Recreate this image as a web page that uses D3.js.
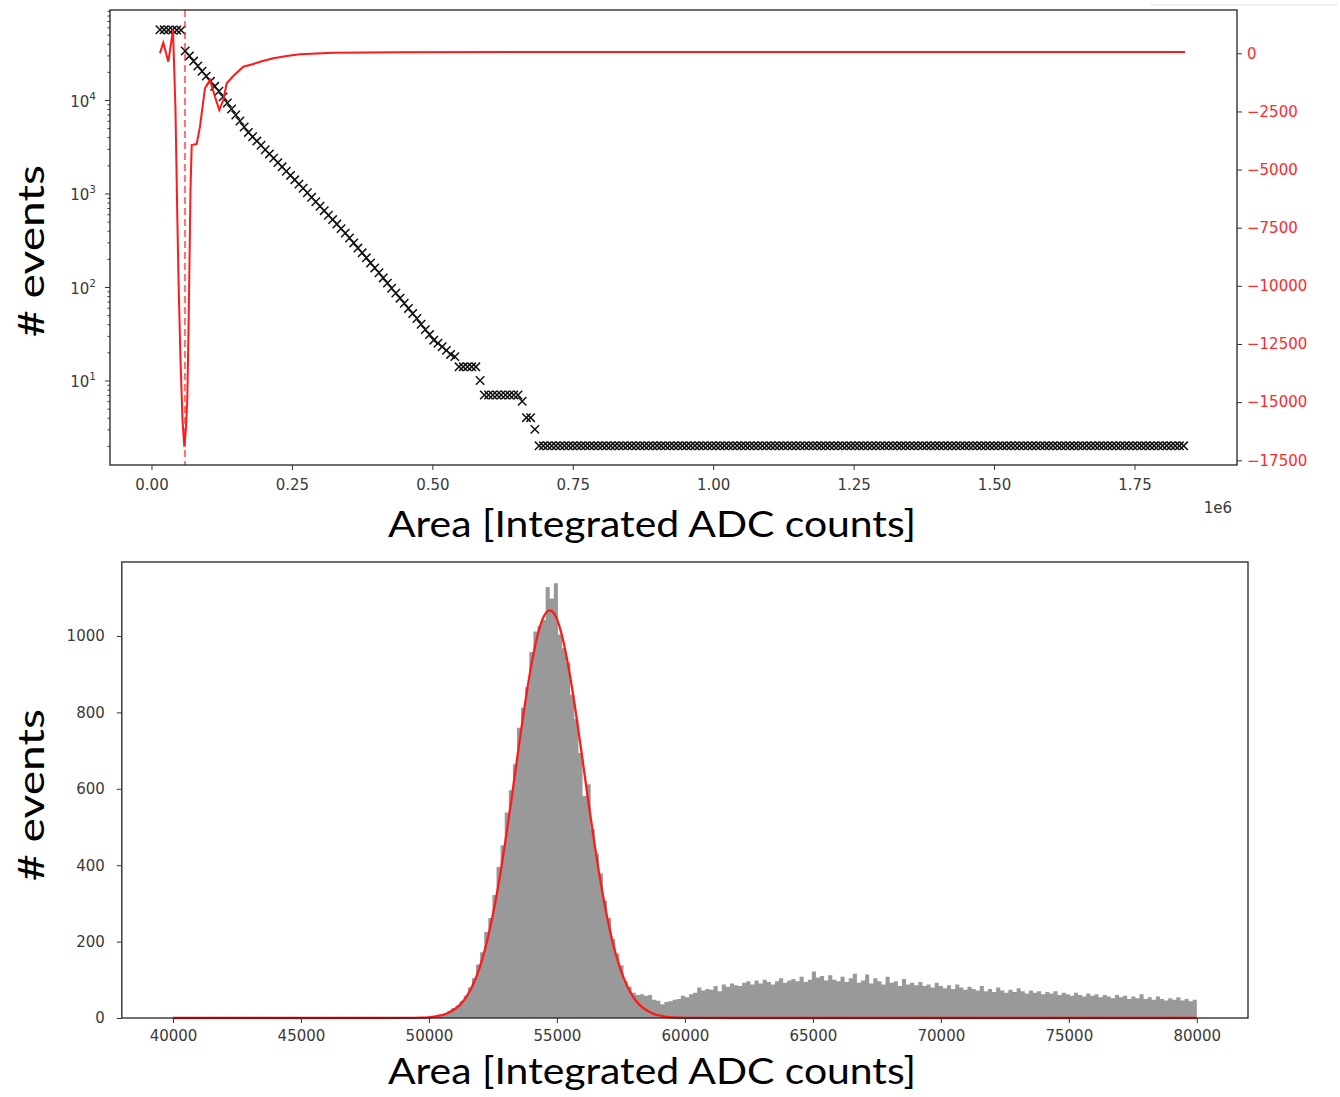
<!DOCTYPE html>
<html><head><meta charset="utf-8">
<script src="https://cdn.jsdelivr.net/npm/d3@7"></script>
<style>body{margin:0;background:#fff}svg{display:block}</style>
</head><body>
<svg id="c" width="1340" height="1097"></svg>
<script>
// ---------------- DATA ----------------
// Top panel: event counts per area bin (black x markers, log scale)
const topBinStart = 15000;
const topBinStep = 7500;
const topCountsHead = [56400, 56300, 56200, 56100, 56000, 55900,
  33400, 29600, 26100, 23100, 20300, 18000, 15850, 14000, 12400, 10800,
  9290, 8010, 6920, 5960, 5140, 4500, 4050, 3640, 3280, 2940,
  2650, 2390, 2140, 1930, 1730, 1560, 1400, 1260, 1137, 1018,
  910, 817, 731, 655, 586, 526, 471, 421, 377, 334,
  296, 261, 232, 205, 181, 160, 142, 125, 110, 97,
  86, 76, 67, 59, 52, 46, 40, 35, 31, 27, 25, 23, 21, 19, 18,
  14, 14, 14, 14, 14, 10, 7, 7, 7, 7, 7, 7, 7, 7, 7, 6, 4, 4, 3];
const topCountsTail = [
  2,2,2,2,2,2,2,2,2,2,2,2,2,2,2,2,2,2,2,2,2,2,2,2,2,2,2,2,2,2,2,
  2,2,2,2,2,2,2,2,2,2,2,2,2,2,2,2,2,2,2,2,2,2,2,2,2,2,2,2,2,2,2,
  2,2,2,2,2,2,2,2,2,2,2,2,2,2,2,2,2,2,2,2,2,2,2,2,2,2,2,2,2,2,2,
  2,2,2,2,2,2,2,2,2,2,2,2,2,2,2,2,2,2,2,2,2,2,2,2,2,2,2,2,2,2,2,
  2,2,2,2,2,2,2,2,2,2,2,2,2,2,2,2,2,2,2,2,2,2,2,2,2,2,2,2,2,2];
// Top panel: red curve on the right axis
const curveX = [15100, 21000, 29900, 38300, 42700, 45400, 48100, 51600, 55200, 58400,
  61100, 63700, 65900, 67700, 69400, 71600, 80500, 86300, 95200, 104100,
  113000, 120700, 127800, 133900, 145600, 163400, 181200, 193200, 216900, 240700,
  264400, 323500, 442400, 798500, 1510600, 1840000];
const curveY = [0, 456, -361, 1002, -2438, -6308, -9748, -13188, -15769, -16916,
  -16200, -14910, -11900, -8890, -5880, -3943, -3900, -3156, -1505, -1148,
  -1866, -2438, -2008, -1290, -976, -576, -460, -361, -215, -116,
  -43, 22, 47, 56, 56, 56];
const cutValue = 59600;
const topXTicks = [0, 250000, 500000, 750000, 1000000, 1250000, 1500000, 1750000];
const topXTickLabels = ["0.00", "0.25", "0.50", "0.75", "1.00", "1.25", "1.50", "1.75"];
const logTicks = [10, 100, 1000, 10000];
const logTickExps = ["1", "2", "3", "4"];
const rightTicks = [0, -2500, -5000, -7500, -10000, -12500, -15000, -17500];

// Bottom panel: histogram
const histStart = 49600;
const histBinWidth = 160;
const histCounts = [
  1, 2, 3, 5, 6, 9, 12, 18, 26, 33,
  44, 58, 80, 104, 140, 172, 225, 262, 322, 395,
  452, 538, 596, 664, 760, 812, 866, 958, 1012, 1026,
  1042, 1128, 1098, 1138, 1004, 968, 930, 846, 782, 694,
  582, 612, 494, 430, 378, 306, 262, 206, 168, 138,
  96, 82, 66, 60, 62, 58, 60, 48, 45, 36,
  42, 44, 48, 50, 58, 54, 62, 66, 80, 72,
  76, 74, 84, 70, 88, 82, 90, 86, 84, 92,
  96, 88, 98, 90, 100, 94, 88, 96, 104, 92,
  98, 102, 96, 108, 94, 100, 122, 106, 110, 98,
  112, 100, 96, 108, 94, 104, 116, 92, 98, 114,
  90, 104, 96, 88, 108, 92, 96, 84, 102, 88,
  92, 86, 94, 84, 88, 80, 92, 84, 78, 86,
  76, 88, 80, 74, 82, 76, 72, 84, 70, 76,
  68, 80, 72, 66, 74, 68, 78, 70, 64, 72,
  66, 70, 62, 68, 64, 70, 60, 66, 62, 58,
  66, 60, 56, 64, 58, 62, 54, 60, 56, 52,
  60, 54, 58, 50, 56, 52, 62, 50, 54, 48,
  56, 50, 46, 52, 48, 54, 46, 50, 44, 48];
// Gaussian fit curve (red)
const fitX = [40000, 46000, 48000, 49000, 49720, 50220, 50720, 51220, 51470, 51720,
  51970, 52220, 52470, 52720, 52970, 53220, 53470, 53720, 53970, 54220,
  54470, 54720, 54970, 55220, 55470, 55720, 55970, 56220, 56470, 56720,
  56970, 57220, 57470, 57720, 57970, 58220, 58720, 59220, 59720, 60500,
  62000, 80000];
const fitY = [0, 0, 0.05, 0.1, 1.0, 3.8, 12.4, 35, 56, 87,
  130, 187, 261, 350, 455, 570, 691, 808, 912, 995,
  1049, 1067, 1049, 995, 912, 808, 691, 570, 455, 350,
  261, 187, 130, 87, 56, 35, 12.4, 3.8, 1.0, 0.1,
  0, 0];
const botXTicks = [40000, 45000, 50000, 55000, 60000, 65000, 70000, 75000, 80000];
const botYTicks = [0, 200, 400, 600, 800, 1000];

// ---------------- DRAW ----------------
const svg = d3.select("#c");
const tickFont = "DejaVu Sans";
const labelFont = "Lato";
const tickColor = "#3a3a3a";
svg.append("line").attr("x1", 1150).attr("x2", 1338).attr("y1", 5).attr("y2", 5)
  .attr("stroke", "#e6e6e6").attr("stroke-width", 1);

// ===== TOP PANEL =====
const T = {l: 110, r: 1237, t: 10, b: 465};
const tX = d3.scaleLinear().domain([-73880, 1932520]).range([T.l, T.r]);
const tY = d3.scaleLog().domain([1.248, 91770]).range([T.b, T.t]);
const tY2 = d3.scaleLinear().domain([-17703, 1862]).range([T.b, T.t]);

svg.append("clipPath").attr("id", "clipTop").append("rect")
  .attr("x", T.l).attr("y", T.t).attr("width", T.r - T.l).attr("height", T.b - T.t);

const topCounts = topCountsHead.concat(topCountsTail);
const topPts = topCounts.map((c, i) => ({x: topBinStart + i * topBinStep, y: c}));

const gTop = svg.append("g").attr("clip-path", "url(#clipTop)");
gTop.selectAll("path.mk").data(topPts).join("path").attr("class", "mk")
  .attr("transform", d => `translate(${tX(d.x)},${tY(d.y)})`)
  .attr("d", "M-4.2,-4.2L4.2,4.2M-4.2,4.2L4.2,-4.2")
  .attr("stroke", "#111").attr("stroke-width", 1.5).attr("fill", "none");

gTop.append("line").attr("x1", tX(cutValue)).attr("x2", tX(cutValue))
  .attr("y1", T.t).attr("y2", T.b)
  .attr("stroke", "rgba(255,40,40,0.65)").attr("stroke-width", 2).attr("stroke-dasharray", "7,4");

const curvePts = curveX.map((x, i) => [x, curveY[i]]);
gTop.append("path").datum(curvePts)
  .attr("d", d3.line().x(d => tX(d[0])).y(d => tY2(d[1])))
  .attr("fill", "none").attr("stroke", "#ff1a1a").attr("stroke-width", 2);

// frame
svg.append("rect").attr("x", T.l).attr("y", T.t).attr("width", T.r - T.l).attr("height", T.b - T.t)
  .attr("fill", "none").attr("stroke", "#222").attr("stroke-width", 1.3);

function styleAxis(g, color) {
  g.select(".domain").remove();
  g.selectAll(".tick line").attr("stroke", "#333").attr("stroke-width", 1);
  g.selectAll(".tick text").attr("font-family", tickFont).attr("font-size", 15).attr("fill", color || tickColor);
}
// bottom x axis
const axTX = svg.append("g").attr("transform", `translate(0,${T.b})`)
  .call(d3.axisBottom(tX).tickValues(topXTicks).tickSize(5).tickPadding(9)
    .tickFormat((d, i) => topXTickLabels[i]));
styleAxis(axTX);
svg.append("text").attr("x", 1218).attr("y", 513).attr("text-anchor", "middle")
  .attr("font-family", tickFont).attr("font-size", 15).attr("fill", tickColor).text("1e6");

// left log axis major
const axTY = svg.append("g").attr("transform", `translate(${T.l},0)`)
  .call(d3.axisLeft(tY).tickValues(logTicks).tickSize(5).tickFormat(""));
styleAxis(axTY);
axTY.selectAll(".tick").each(function(d, i) {
  const t = d3.select(this).append("text").attr("x", -14).attr("y", 6)
    .attr("text-anchor", "end").attr("font-family", tickFont).attr("font-size", 15).attr("fill", tickColor);
  t.append("tspan").text("10");
  t.append("tspan").attr("dy", -7).attr("font-size", 10.5).text(logTickExps[i]);
});
// minor log ticks
const minorTicks = [];
[1, 10, 100, 1000, 10000].forEach(b => { for (let m = 2; m <= 9; m++) { const v = b * m; if (v >= 1.248 && v <= 91770) minorTicks.push(v); } });
const axTYm = svg.append("g").attr("transform", `translate(${T.l},0)`)
  .call(d3.axisLeft(tY).tickValues(minorTicks).tickSize(2.5).tickFormat(""));
styleAxis(axTYm);

// right axis
const axTY2 = svg.append("g").attr("transform", `translate(${T.r},0)`)
  .call(d3.axisRight(tY2).tickValues(rightTicks).tickSize(5).tickPadding(5)
    .tickFormat(d => d === 0 ? "0" : "\u2212" + Math.abs(d)));
styleAxis(axTY2, "#ff2a2a");

svg.append("text").attr("x", 652).attr("y", 537).attr("text-anchor", "middle")
  .attr("font-family", labelFont).attr("font-size", 36).attr("fill", "#000")
  .attr("textLength", 528).attr("lengthAdjust", "spacingAndGlyphs").text("Area [Integrated ADC counts]");
svg.append("text").attr("transform", "translate(44,251) rotate(-90)").attr("text-anchor", "middle")
  .attr("font-family", labelFont).attr("font-size", 36).attr("fill", "#000")
  .attr("textLength", 172).attr("lengthAdjust", "spacingAndGlyphs").text("# events");

// ===== BOTTOM PANEL =====
const B = {l: 121.8, r: 1248, t: 562, b: 1018};
const bX = d3.scaleLinear().domain([38000, 82000]).range([B.l, B.r]);
const bY = d3.scaleLinear().domain([0, 1193.7]).range([B.b, B.t]);

// histogram drawn as one stepped area (no seams between adjacent bars)
const histSteps = histCounts.map((c, i) => ({x: histStart + i * histBinWidth, c}));
histSteps.push({x: histStart + histCounts.length * histBinWidth, c: histCounts[histCounts.length - 1]});
svg.append("path").datum(histSteps)
  .attr("d", d3.area().curve(d3.curveStepAfter).x(d => bX(d.x)).y0(bY(0)).y1(d => bY(d.c)))
  .attr("fill", "#999999");

const fitPts = fitX.map((x, i) => [x, fitY[i]]);
svg.append("path").datum(fitPts)
  .attr("d", d3.line().x(d => bX(d[0])).y(d => bY(d[1])).curve(d3.curveMonotoneX))
  .attr("fill", "none").attr("stroke", "#ff1a1a").attr("stroke-width", 2.3);

svg.append("rect").attr("x", B.l).attr("y", B.t).attr("width", B.r - B.l).attr("height", B.b - B.t)
  .attr("fill", "none").attr("stroke", "#222").attr("stroke-width", 1.3);

const axBX = svg.append("g").attr("transform", `translate(0,${B.b})`)
  .call(d3.axisBottom(bX).tickValues(botXTicks).tickSize(5).tickPadding(7).tickFormat(d3.format("d")));
styleAxis(axBX);
const axBY = svg.append("g").attr("transform", `translate(${B.l},0)`)
  .call(d3.axisLeft(bY).tickValues(botYTicks).tickSize(5).tickPadding(12).tickFormat(d3.format("d")));
styleAxis(axBY);

svg.append("text").attr("x", 652).attr("y", 1084).attr("text-anchor", "middle")
  .attr("font-family", labelFont).attr("font-size", 36).attr("fill", "#000")
  .attr("textLength", 528).attr("lengthAdjust", "spacingAndGlyphs").text("Area [Integrated ADC counts]");
svg.append("text").attr("transform", "translate(44,795) rotate(-90)").attr("text-anchor", "middle")
  .attr("font-family", labelFont).attr("font-size", 36).attr("fill", "#000")
  .attr("textLength", 172).attr("lengthAdjust", "spacingAndGlyphs").text("# events");
</script>
</body></html>
